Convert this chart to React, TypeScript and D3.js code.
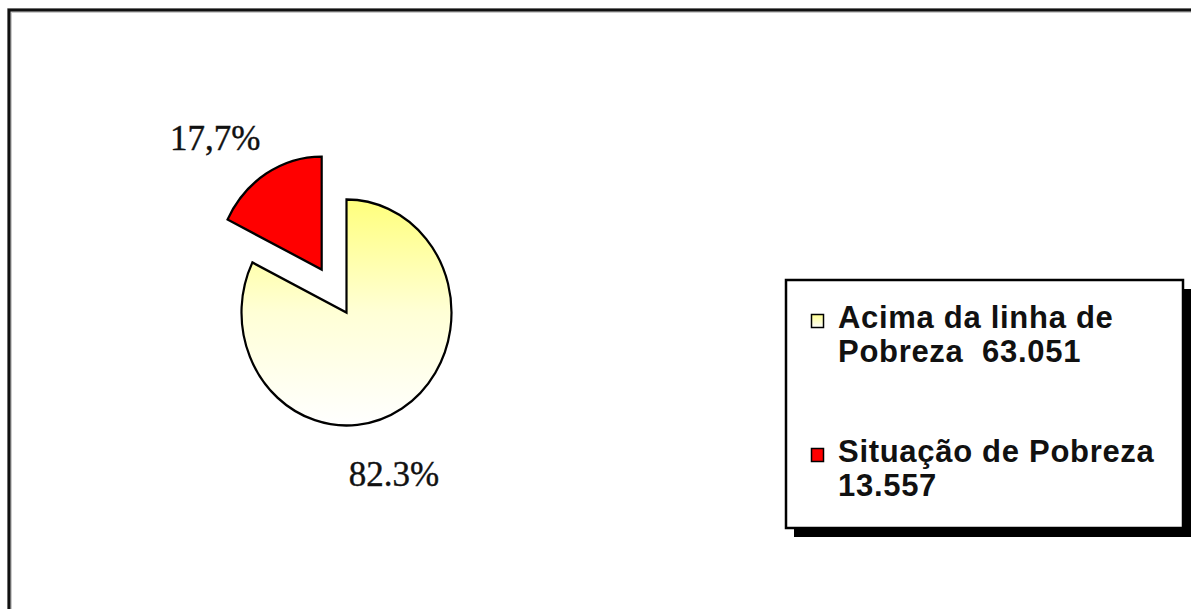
import React from "react";
import * as d3 from "d3";

// ---- data ----
const categories = ["Acima da linha de Pobreza", "Situação de Pobreza"];
const values = [63051, 13557];
const percentLabels = ["82.3%", "17,7%"];
const legendLines = [
  ["Acima da linha de", "Pobreza  63.051"],
  ["Situação de Pobreza", "13.557"],
];

// ---- layout / style ----
const W = 1191;
const H = 609;
const cx = 346.5;
const cy = 312.5;
const R = 105;
const yStretch = 1.076;
const explodeDist = [0, 47];
const labelNudge = [
  [-8, 66],
  [-51, -35],
];
const fills = ["url(#yellowGrad)", "#FF0000"];

export default function App() {
  const pie = d3
    .pie<number>()
    .sort(null)
    .value((d) => d)(values);
  const arc = d3.arc<d3.PieArcDatum<number>>().innerRadius(0).outerRadius(R);
  const labelArc = d3.arc<d3.PieArcDatum<number>>().innerRadius(R).outerRadius(R);

  const legendX = 786;
  const legendY = 280;
  const legendW = 397;
  const legendH = 248;
  const lineH = 34;
  const entryY = [328, 462];

  return (
    <svg
      width={W}
      height={H}
      style={{ position: "absolute", left: 0, top: 0, background: "#fff" }}
      fontFamily="'Liberation Sans', Arial, sans-serif"
    >
      <defs>
        <linearGradient
          id="yellowGrad"
          gradientUnits="userSpaceOnUse"
          x1={0}
          y1={-R}
          x2={0}
          y2={R}
        >
          <stop offset="0" stopColor="#FFFF7C" />
          <stop offset="0.5" stopColor="#FFFFD6" />
          <stop offset="1" stopColor="#FFFFFF" />
        </linearGradient>
        <linearGradient id="legendGrad" x1="0" y1="0" x2="0" y2="1">
          <stop offset="0" stopColor="#FFFF90" />
          <stop offset="1" stopColor="#FFFFFF" />
        </linearGradient>
      </defs>

      {/* outer frame */}
      <rect x={9.5} y={10.5} width={W + 20} height={H + 20} fill="none" stroke="#ccc" strokeWidth={5} />
      <rect x={9} y={10} width={W + 20} height={H + 20} fill="none" stroke="#111" strokeWidth={3} />

      {/* pie */}
      <g transform={`translate(${cx},${cy}) scale(1,${yStretch})`}>
        {pie.map((p, i) => {
          const mid = (p.startAngle + p.endAngle) / 2;
          const dx = Math.sin(mid) * explodeDist[i];
          const dy = -Math.cos(mid) * explodeDist[i];
          return (
            <path
              key={i}
              d={arc(p) || ""}
              transform={`translate(${dx},${dy})`}
              fill={fills[i]}
              stroke="#000"
              strokeWidth={2.2}
              strokeLinejoin="miter"
            />
          );
        })}
      </g>

      {/* percentage labels */}
      {pie.map((p, i) => {
        const mid = (p.startAngle + p.endAngle) / 2;
        const [lx, ly] = labelArc.centroid(p);
        const ex = Math.sin(mid) * explodeDist[i];
        const ey = -Math.cos(mid) * explodeDist[i];
        const x = cx + lx + ex + labelNudge[i][0];
        const y = cy + (ly + ey) * yStretch + labelNudge[i][1];
        return (
          <text
            key={i}
            x={x}
            y={y}
            dy="0.34em"
            textAnchor="middle"
            fontFamily="'Liberation Serif', 'Times New Roman', serif"
            fontSize={35}
            fill="#111"
            stroke="#111"
            strokeWidth={0.4}
          >
            {percentLabels[i]}
          </text>
        );
      })}

      {/* legend */}
      <rect x={legendX + 8} y={legendY + 9} width={legendW} height={legendH} fill="#000" />
      <rect
        x={legendX}
        y={legendY}
        width={legendW}
        height={legendH}
        fill="#fff"
        stroke="#000"
        strokeWidth={2.5}
      />
      {categories.map((c, i) => (
        <g key={c}>
          <rect
            x={811.5}
            y={entryY[i] - 13.5}
            width={12}
            height={13}
            fill={i === 0 ? "url(#legendGrad)" : fills[i]}
            stroke="#000"
            strokeWidth={1.5}
          />
          {legendLines[i].map((ln, j) => (
            <text
              key={j}
              x={838}
              y={entryY[i] + j * lineH}
              fontSize={31}
              fontWeight="bold"
              letterSpacing={0.7}
              fill="#111"
              style={{ whiteSpace: "pre" }}
            >
              {ln}
            </text>
          ))}
        </g>
      ))}
    </svg>
  );
}
